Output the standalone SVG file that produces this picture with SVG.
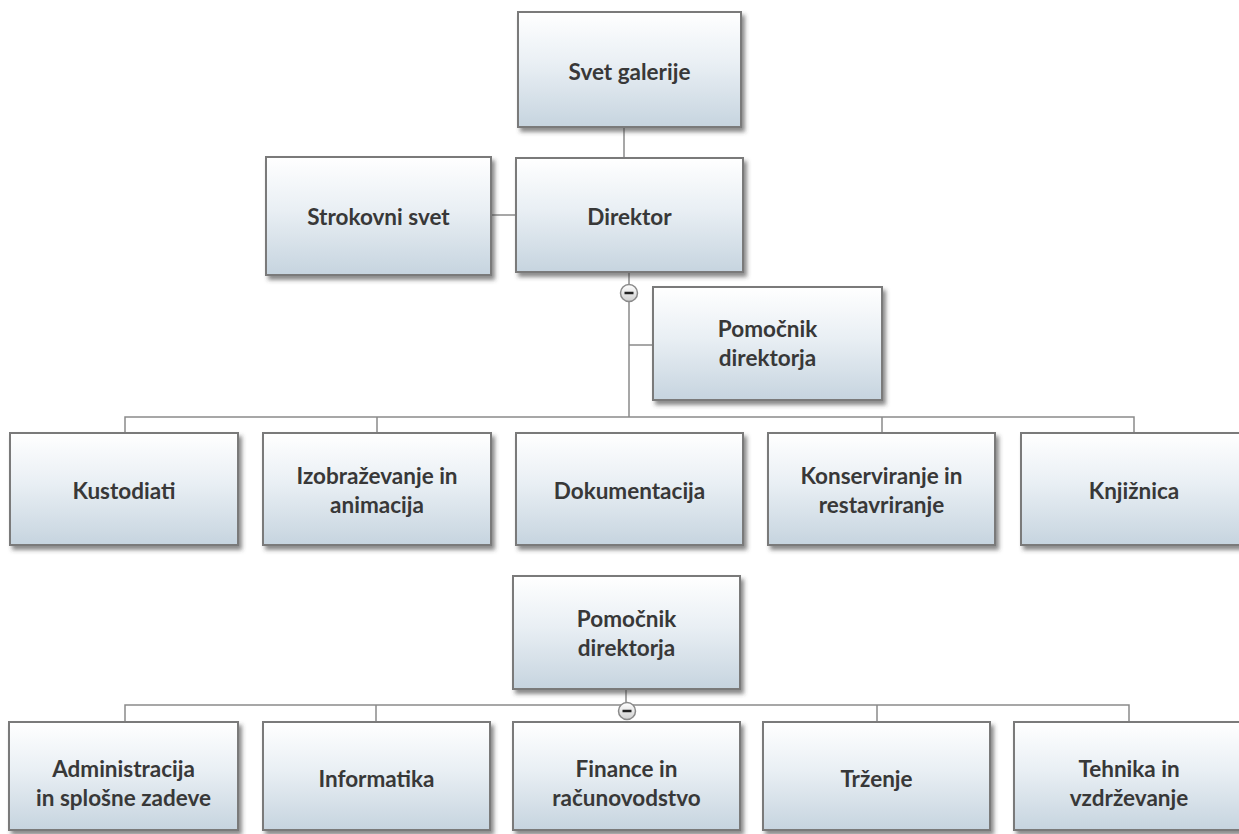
<svg xmlns="http://www.w3.org/2000/svg" width="1239" height="834" viewBox="0 0 1239 834">
<defs>
<linearGradient id="g" x1="0" y1="0" x2="0" y2="1">
<stop offset="0" stop-color="#ffffff"/>
<stop offset="0.45" stop-color="#e9eff4"/>
<stop offset="1" stop-color="#c6d4df"/>
</linearGradient>
<linearGradient id="cg" x1="0" y1="0" x2="0" y2="1">
<stop offset="0" stop-color="#ffffff"/>
<stop offset="1" stop-color="#cfcfcf"/>
</linearGradient>
<filter id="sh" x="-10%" y="-10%" width="125%" height="130%">
<feDropShadow dx="3" dy="4" stdDeviation="2" flood-color="#3a3a3a" flood-opacity="0.6"/>
</filter>
</defs>
<style>
.box{fill:url(#g);stroke:#7a7a7a;stroke-width:2;filter:url(#sh)}
.t{font-family:Lato,"Liberation Sans",sans-serif;font-weight:700;font-size:22.5px;fill:#383838;text-anchor:middle}
.c{fill:none;stroke:#8a8a8a;stroke-width:1.5}
.cb{fill:url(#cg);stroke:#8a8a8a;stroke-width:1.5}
.m{stroke:#222;stroke-width:2.5}
</style>
<rect width="1239" height="834" fill="#ffffff"/>
<g id="connectors">
<path class="c" d="M624 127V158"/>
<path class="c" d="M491 215H516"/>
<path class="c" d="M629 272V417"/>
<path class="c" d="M629 345H653"/>
<path class="c" d="M125 433V417H1134V433"/>
<path class="c" d="M377 417V433M882 417V433"/>
<path class="c" d="M626 689V705"/>
<path class="c" d="M125 722V705H1129V722"/>
<path class="c" d="M376 705V722M877 705V722"/>
</g>
<g id="collapse1"><circle class="cb" cx="629" cy="293" r="8.5"/><path class="m" d="M624.5 293H633.5"/></g>
<g id="collapse2"><circle class="cb" cx="627" cy="711" r="8.5"/><path class="m" d="M622.5 711H631.5"/></g>
<g id="svet-galerije"><rect class="box" x="518" y="12" width="223" height="115"/><text class="t" x="629.5" y="80">Svet galerije</text></g>
<g id="strokovni-svet"><rect class="box" x="266" y="157" width="225" height="118"/><text class="t" x="378.5" y="225">Strokovni svet</text></g>
<g id="direktor"><rect class="box" x="516" y="158" width="227" height="114"/><text class="t" x="629.5" y="225">Direktor</text></g>
<g id="pomocnik1"><rect class="box" x="653" y="287" width="229" height="113"/><text class="t" x="767.5" y="337">Pomočnik</text><text class="t" x="767.5" y="366">direktorja</text></g>
<g id="kustodiati"><rect class="box" x="10" y="433" width="228" height="112"/><text class="t" x="124" y="499">Kustodiati</text></g>
<g id="izobrazevanje"><rect class="box" x="263" y="433" width="228" height="112"/><text class="t" x="377" y="484">Izobraževanje in</text><text class="t" x="377" y="513">animacija</text></g>
<g id="dokumentacija"><rect class="box" x="516" y="433" width="227" height="112"/><text class="t" x="629.5" y="499">Dokumentacija</text></g>
<g id="konserviranje"><rect class="box" x="768" y="433" width="227" height="112"/><text class="t" x="881.5" y="484">Konserviranje in</text><text class="t" x="881.5" y="513">restavriranje</text></g>
<g id="knjiznica"><rect class="box" x="1021" y="433" width="228" height="112"/><text class="t" x="1134" y="499">Knjižnica</text></g>
<g id="pomocnik2"><rect class="box" x="513" y="576" width="227" height="113"/><text class="t" x="626.5" y="627">Pomočnik</text><text class="t" x="626.5" y="656">direktorja</text></g>
<g id="administracija"><rect class="box" x="9" y="722" width="229" height="108"/><text class="t" x="123.5" y="777">Administracija</text><text class="t" x="123.5" y="806">in splošne zadeve</text></g>
<g id="informatika"><rect class="box" x="263" y="722" width="227" height="108"/><text class="t" x="376.5" y="787">Informatika</text></g>
<g id="finance"><rect class="box" x="513" y="722" width="227" height="108"/><text class="t" x="626.5" y="777">Finance in</text><text class="t" x="626.5" y="806">računovodstvo</text></g>
<g id="trzenje"><rect class="box" x="763" y="722" width="227" height="108"/><text class="t" x="876.5" y="787">Trženje</text></g>
<g id="tehnika"><rect class="box" x="1014" y="722" width="230" height="108"/><text class="t" x="1129" y="777">Tehnika in</text><text class="t" x="1129" y="806">vzdrževanje</text></g>
</svg>
